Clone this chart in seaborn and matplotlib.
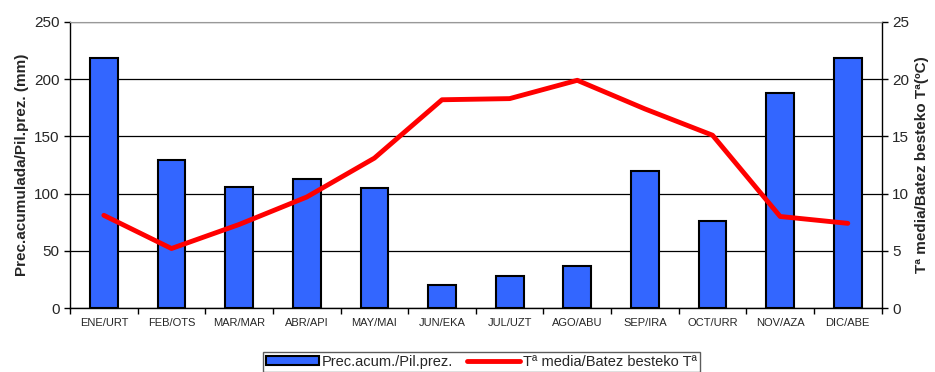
import numpy as np
import pandas as pd
import seaborn as sns
import matplotlib.pyplot as plt
from matplotlib.patches import Patch
from matplotlib.lines import Line2D

# Monthly data
months = ['ENE/URT', 'FEB/OTS', 'MAR/MAR', 'ABR/API', 'MAY/MAI', 'JUN/EKA',
          'JUL/UZT', 'AGO/ABU', 'SEP/IRA', 'OCT/URR', 'NOV/AZA', 'DIC/ABE']
precip = [218.5, 129, 106, 113, 105, 20, 28, 37, 120, 76, 188, 218.5]
temp = [8.1, 5.2, 7.3, 9.7, 13.1, 18.2, 18.3, 19.9, 17.4, 15.1, 8.0, 7.4]

df = pd.DataFrame({'mes': months, 'prec': precip, 'temp': temp})

sns.set_style('white')
plt.rcParams['font.family'] = ['Liberation Sans', 'DejaVu Sans']

fig = plt.figure(figsize=(9.35, 3.72), dpi=100)
ax = fig.add_axes([0.0749, 0.172, 0.868, 0.769])

# Precipitation bars
sns.barplot(data=df, x='mes', y='prec', color='#3366FF', edgecolor='black',
            linewidth=1.5, width=0.41, saturation=1, ax=ax, zorder=3)
ax.set_ylim(0, 250)
ax.set_xlim(-0.5, len(months) - 0.5)
ax.set_yticks(np.arange(0, 251, 50))
ax.yaxis.grid(True, color='black', linewidth=0.9, zorder=0)
ax.set_axisbelow(True)
ax.set_xlabel('')
ax.set_ylabel('Prec.acumulada/Pil.prez. (mm)', fontsize=11, fontweight='bold')
ax.tick_params(axis='y', labelsize=11, length=4, width=1, color='black', left=True)
ax.tick_params(axis='x', which='major', labelsize=8, length=0, pad=7)
ax.set_xticks(np.arange(-0.5, len(months), 1), minor=True)
ax.tick_params(axis='x', which='minor', length=4, width=1, color='black', bottom=True)
for s in ['left', 'right', 'bottom']:
    ax.spines[s].set_color('black')
    ax.spines[s].set_linewidth(1)
ax.spines['top'].set_color('#999999')

# Temperature line on second axis
ax2 = ax.twinx()
sns.lineplot(x=np.arange(len(months)), y=df['temp'], color='#FF0000',
             linewidth=3.5, ax=ax2, zorder=4)
ax2.set_ylim(0, 25)
ax2.set_yticks(np.arange(0, 26, 5))
ax2.set_ylabel('Tª media/Batez besteko Tª(ºC)', fontsize=11, fontweight='bold')
ax2.tick_params(axis='y', labelsize=11, length=4, width=1, color='black', right=True)
for s in ax2.spines.values():
    s.set_visible(False)

handles = [Patch(facecolor='#3366FF', edgecolor='black', linewidth=1.5),
           Line2D([0], [0], color='#FF0000', linewidth=3.5)]
leg = fig.legend(handles, ['Prec.acum./Pil.prez.', 'Tª media/Batez besteko Tª'],
                 loc='upper center', bbox_to_anchor=(0.515, 0.054), ncol=2,
                 fontsize=10.5, frameon=True, fancybox=False, edgecolor='#333333',
                 handlelength=3.6, handleheight=0.6, handletextpad=0.2,
                 columnspacing=1.0, borderpad=0.2, borderaxespad=0)
leg.get_frame().set_linewidth(1)

plt.savefig('out.png', dpi=100)
